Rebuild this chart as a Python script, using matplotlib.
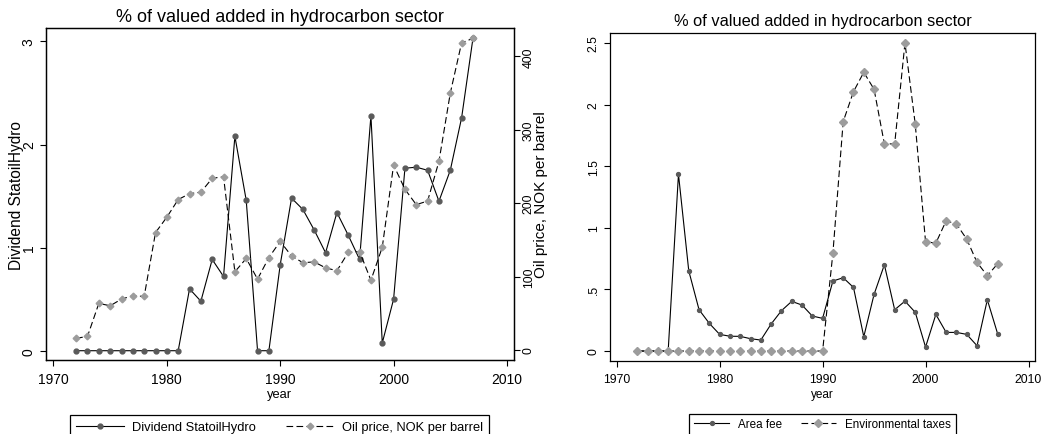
import matplotlib
matplotlib.use("Agg")
import matplotlib.pyplot as plt
from matplotlib import font_manager

# ── Data ──────────────────────────────────────────────────────────────────────
years = list(range(1972, 2008))

dividend = [0, 0, 0, 0, 0, 0, 0, 0, 0, 0,
            0.60, 0.48, 0.885, 0.72, 2.08, 1.46, 0, 0, 0.835, 1.48,
            1.37, 1.17, 0.95, 1.34, 1.12, 0.885, 2.28, 0.075, 0.50, 1.77,
            1.78, 1.75, 1.45, 1.75, 2.26, 3.03]

oil_price = [15.9, 18.6, 63.5, 60.3, 69.4, 73.9, 73.0, 160, 181, 205,
             213, 215, 234, 236, 106.6, 124.7, 96.6, 126, 148, 128,
             119, 120, 112, 108, 133, 134, 95, 140, 252, 219,
             198, 203, 257, 350, 418.6, 424.5]

area_fee = [0, 0, 0, 0, 1.435, 0.651, 0.335, 0.224, 0.135, 0.12,
            0.119, 0.10, 0.089, 0.219, 0.327, 0.403, 0.373, 0.284, 0.265, 0.568,
            0.595, 0.516, 0.116, 0.46, 0.70, 0.335, 0.405, 0.314, 0.032, 0.297,
            0.151, 0.151, 0.135, 0.043, 0.416, 0.14]

env_taxes = [0, 0, 0, 0, 0, 0, 0, 0, 0, 0,
             0, 0, 0, 0, 0, 0, 0, 0, 0, 0.795,
             1.862, 2.105, 2.262, 2.124, 1.681, 1.681, 2.5, 1.84, 0.886, 0.876,
             1.057, 1.03, 0.908, 0.719, 0.611, 0.708]

left_yticks = [0, 1, 2, 3]
right_yticks = [0, 100, 200, 300, 400]
env_yticks = [0, 0.5, 1, 1.5, 2, 2.5]
env_yticklabels = ["0", ".5", "1", "1.5", "2", "2.5"]
xticks = [1970, 1980, 1990, 2000, 2010]

TITLE = "% of valued added in hydrocarbon sector"


def has_font(name):
    try:
        font_manager.findfont(name, fallback_to_default=False)
        return True
    except Exception:
        return False


REG = "Liberation Sans"
# right panel of the original uses a condensed face; fall back to a smaller
# regular face when no narrow font is installed
if has_font("Liberation Sans Narrow"):
    NARROW = "Liberation Sans Narrow"
    R_SIZES = dict(title=13, tick=9.5, xlabel=8.8, legend=9.1)
else:
    NARROW = REG
    R_SIZES = dict(title=11.8, tick=8.8, xlabel=8.5, legend=8.4)

plt.rcParams["font.family"] = [REG, "DejaVu Sans"]

DARK = "#5a5a5a"
LIGHT = "#9c9c9c"
W, H = 1041, 435
fig = plt.figure(figsize=(W / 100, H / 100), dpi=100)


def style_axes(ax):
    for sp in ax.spines.values():
        sp.set_linewidth(0.9)
    ax.tick_params(direction="out", length=4.3, width=0.8)


# ── Left panel ────────────────────────────────────────────────────────────────
ax1 = fig.add_axes([46 / W, 1 - 361 / H, 468 / W, 332 / H])
ax2 = ax1.twinx()
style_axes(ax1)
style_axes(ax2)

l1, = ax1.plot(years, dividend, color="black", lw=0.8, marker="o", ms=3.5,
               mfc=DARK, mec=DARK, label="Dividend StatoilHydro")
l2, = ax2.plot(years, oil_price, color="black", lw=0.8, dashes=(6, 3),
               marker="D", ms=3.4, mfc=LIGHT, mec=LIGHT,
               label="Oil price, NOK per barrel")

ax1.set_xlim(1969.34, 2010.62)
ax1.set_ylim(-0.09, 3.13)
ax2.set_ylim(-13.6, 438.7)
ax1.set_xticks(xticks)
ax1.set_yticks(left_yticks)
ax2.set_yticks(right_yticks)
ax1.tick_params(axis="x", labelsize=10, pad=4)
ax1.tick_params(axis="y", labelsize=10, pad=3, labelrotation=90)
ax2.tick_params(axis="y", labelsize=8.8, pad=2, labelrotation=90)
for t in ax1.get_yticklabels() + ax2.get_yticklabels():
    t.set_va("center")

ax1.set_xlabel("year", fontsize=9.3)
ax1.xaxis.set_label_coords(0.5, (361 - 395) / 332)
ax1.xaxis.label.set_va("center")
ax1.set_ylabel("Dividend StatoilHydro", fontsize=11.2)
ax1.yaxis.set_label_coords((16 - 46) / 468, 0.5)
ax1.yaxis.label.set_va("center")
ax2.set_ylabel("Oil price, NOK per barrel", fontsize=11, rotation=90)
ax2.yaxis.set_label_coords((541 - 46) / 468, 0.5)
ax2.yaxis.label.set_va("center")

fig.text(280 / W, 1 - 17.5 / H, TITLE, ha="center", va="center", fontsize=13)

fig.legend([l1, l2], [l1.get_label(), l2.get_label()],
           loc="upper center", bbox_to_anchor=(279.5 / W, 1 - 410 / H),
           ncol=2, fancybox=False, edgecolor="black", framealpha=1,
           fontsize=9.3, borderpad=0.45, handlelength=3.75, handletextpad=0.6,
           columnspacing=2.3, numpoints=1).get_frame().set_linewidth(0.9)

# ── Right panel ───────────────────────────────────────────────────────────────
nfam = [NARROW, "DejaVu Sans"]
ax3 = fig.add_axes([610 / W, 1 - 362 / H, 425 / W, 328.5 / H])
style_axes(ax3)

l3, = ax3.plot(years, area_fee, color="black", lw=0.8, marker="o", ms=2.8,
               mfc=DARK, mec=DARK, label="Area fee")
l4, = ax3.plot(years, env_taxes, color="black", lw=0.8, dashes=(6, 3),
               marker="D", ms=4.2, mfc=LIGHT, mec=LIGHT,
               label="Environmental taxes")

ax3.set_xlim(1969.35, 2010.63)
ax3.set_ylim(-0.081, 2.585)
ax3.set_xticks(xticks)
ax3.set_yticks(env_yticks)
ax3.set_yticklabels(env_yticklabels)
ax3.tick_params(axis="x", pad=4)
ax3.tick_params(axis="y", pad=3, labelrotation=90)
for t in ax3.get_xticklabels() + ax3.get_yticklabels():
    t.set_fontfamily(nfam)
    t.set_fontsize(R_SIZES["tick"])
for t in ax3.get_yticklabels():
    t.set_va("center")

ax3.set_xlabel("year", fontsize=R_SIZES["xlabel"], family=nfam)
ax3.xaxis.set_label_coords(0.5, (362 - 395) / 328.5)
ax3.xaxis.label.set_va("center")

fig.text(822.5 / W, 1 - 21.7 / H, TITLE, ha="center", va="center",
         fontsize=R_SIZES["title"], family=nfam)

fig.legend([l3, l4], [l3.get_label(), l4.get_label()],
           loc="upper center", bbox_to_anchor=(822.5 / W, 1 - 408.7 / H),
           ncol=2, fancybox=False, edgecolor="black", framealpha=1,
           prop={"family": nfam, "size": R_SIZES["legend"]},
           borderpad=0.4, handlelength=3.0, handletextpad=0.8,
           columnspacing=1.55, numpoints=1).get_frame().set_linewidth(0.9)

fig.savefig("out.png", dpi=100)
